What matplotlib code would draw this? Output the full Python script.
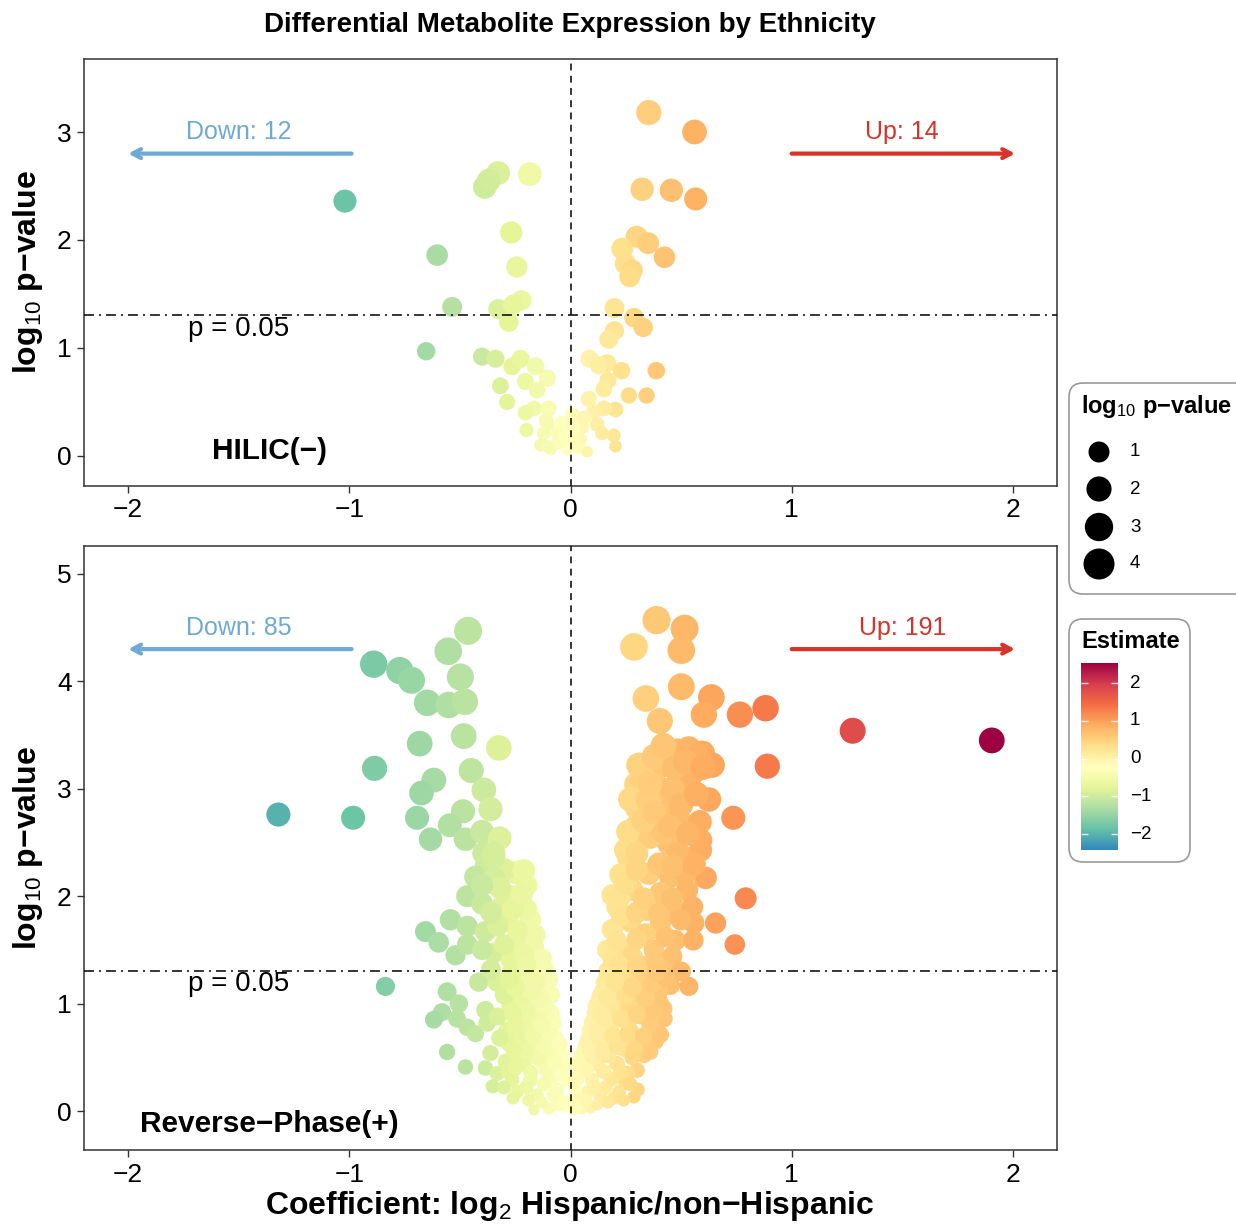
import numpy as np
import matplotlib
matplotlib.use("Agg")
import matplotlib.pyplot as plt
from matplotlib.colors import LinearSegmentedColormap, Normalize
from matplotlib.patches import FancyBboxPatch
import matplotlib.colorbar as mcolorbar

plt.rcParams['font.family'] = ['Liberation Sans', 'DejaVu Sans']
plt.rcParams['mathtext.fontset'] = 'custom'
plt.rcParams['mathtext.rm'] = 'Liberation Sans'
plt.rcParams['mathtext.it'] = 'Liberation Sans:italic'
plt.rcParams['mathtext.bf'] = 'Liberation Sans:bold'

# ---- data: (coefficient log2 ratio, log10 p-value) ----
hilic_neg = [(-1.02, 2.36), (-0.327, 2.62), (-0.388, 2.49), (-0.184, 2.61), (-0.268, 2.07),
             (-0.603, 1.86), (-0.243, 1.75), (-0.535, 1.38), (-0.222, 1.44), (-0.327, 1.36),
             (-0.37, 2.55), (-0.26, 1.40),
             (-0.279, 1.24), (-0.653, 0.97), (-0.40, 0.92), (-0.339, 0.90), (-0.264, 0.83),
             (-0.226, 0.90), (-0.158, 0.83), (-0.105, 0.72), (-0.204, 0.69), (-0.151, 0.61),
             (-0.317, 0.65), (-0.287, 0.50), (-0.166, 0.44), (-0.204, 0.40), (-0.098, 0.44),
             (-0.105, 0.30), (-0.199, 0.24), (-0.121, 0.21), (-0.06, 0.21), (-0.136, 0.10),
             (-0.09, 0.06), (-0.03, 0.15), (-0.015, 0.06), (-0.11, 0.33), (-0.06, 0.12),
             (-0.04, 0.30), (-0.105, 0.09), (-0.023, 0.18)]
hilic_pos = [(0.354, 3.18), (0.561, 3.00), (0.324, 2.47), (0.456, 2.46), (0.566, 2.38),
             (0.299, 2.03), (0.351, 1.97), (0.234, 1.92), (0.425, 1.84), (0.249, 1.78),
             (0.279, 1.72), (0.268, 1.66), (0.199, 1.37), (0.287, 1.28), (0.329, 1.19),
             (0.199, 1.16), (0.173, 1.08), (0.086, 0.90), (0.166, 0.86), (0.128, 0.84),
             (0.231, 0.79), (0.388, 0.79), (0.169, 0.70), (0.151, 0.62), (0.083, 0.53),
             (0.264, 0.56), (0.344, 0.56), (0.204, 0.43), (0.151, 0.44), (0.106, 0.41),
             (0.121, 0.29), (0.053, 0.27), (0.196, 0.19), (0.204, 0.09), (0.075, 0.04),
             (0.045, 0.15), (0.143, 0.21), (0.008, 0.38), (0.014, 0.27), (0.017, 0.18),
             (0.03, 0.08), (0.06, 0.35)]

rp_neg = [(-0.463, 4.47), (-0.553, 4.28), (-0.890, 4.16), (-0.772, 4.10), (-0.719, 4.01),
          (-0.498, 4.04), (-0.648, 3.80), (-0.551, 3.78), (-0.478, 3.81), (-0.682, 3.42),
          (-0.483, 3.49), (-0.324, 3.38), (-0.886, 3.19), (-0.618, 3.08), (-0.674, 2.96),
          (-0.449, 3.17), (-0.392, 2.99), (-0.983, 2.73), (-0.694, 2.73), (-0.486, 2.79),
          (-0.362, 2.81), (-0.546, 2.66), (-0.633, 2.53), (-0.475, 2.53), (-0.400, 2.60),
          (-0.320, 2.54), (-0.392, 2.40), (-0.347, 2.40), (-1.321, 2.76),
          (-0.20, 2.10), (-0.25, 2.22), (-0.27, 2.00), (-0.30, 2.25), (-0.38, 2.30), (-0.15, 1.30),
          (-0.347, 2.37), (-0.211, 2.24), (-0.43, 2.18), (-0.347, 2.17), (-0.467, 2.00),
          (-0.40, 1.93), (-0.302, 1.93), (-0.226, 1.95), (-0.656, 1.67), (-0.543, 1.78),
          (-0.467, 1.72), (-0.385, 1.67), (-0.287, 1.78), (-0.181, 1.78), (-0.596, 1.57),
          (-0.52, 1.45), (-0.467, 1.55), (-0.347, 1.47), (-0.241, 1.56), (-0.166, 1.53),
          (-0.271, 1.41), (-0.181, 1.38), (-0.837, 1.16), (-0.415, 1.20), (-0.332, 1.20),
          (-0.558, 1.11), (-0.234, 1.20), (-0.136, 1.16), (-0.09, 1.08), (-0.505, 1.00),
          (-0.581, 0.92), (-0.618, 0.85), (-0.513, 0.86), (-0.385, 0.94), (-0.271, 0.97),
          (-0.181, 1.00), (-0.09, 0.91), (-0.467, 0.78), (-0.43, 0.72), (-0.377, 0.82),
          (-0.287, 0.75), (-0.196, 0.78), (-0.105, 0.75), (-0.279, 0.63), (-0.181, 0.60),
          (-0.075, 0.60), (-0.558, 0.55), (-0.362, 0.54), (-0.294, 0.46), (-0.211, 0.44),
          (-0.121, 0.44), (-0.03, 0.44), (-0.475, 0.41), (-0.385, 0.40), (-0.332, 0.35),
          (-0.264, 0.29), (-0.181, 0.29), (-0.09, 0.29), (-0.015, 0.29), (-0.352, 0.23),
          (-0.241, 0.18), (-0.151, 0.15), (-0.06, 0.13), (-0.166, 0.01), (-0.09, 0.03),
          (-0.015, 0.04), (-0.05, 0.05), (-0.10, 0.02), (-0.04, 0.35),
          (-0.06, 0.20), (-0.12, 0.25), (-0.20, 0.22), (-0.28, 0.36), (-0.04, 0.52),
          (-0.10, 0.55), (-0.15, 0.50), (-0.24, 0.52), (-0.07, 0.68), (-0.14, 0.66),
          (-0.22, 0.68), (-0.32, 0.68), (-0.08, 0.82), (-0.15, 0.88), (-0.23, 0.86),
          (-0.33, 0.88), (-0.12, 0.98), (-0.22, 1.06), (-0.30, 1.08), (-0.10, 1.22),
          (-0.18, 1.25), (-0.27, 1.28), (-0.36, 1.32), (-0.13, 1.42), (-0.21, 1.46),
          (-0.30, 1.55), (-0.40, 1.50), (-0.16, 1.64), (-0.24, 1.68), (-0.33, 1.72),
          (-0.20, 1.88), (-0.26, 1.88), (-0.36, 1.85), (-0.22, 2.02), (-0.32, 2.08),
          (-0.40, 2.10),
          (-0.03, 0.08), (-0.08, 0.15), (-0.13, 0.08), (-0.19, 0.10), (-0.26, 0.12),
          (-0.30, 0.22), (-0.11, 0.38), (-0.18, 0.36), (-0.25, 0.40), (-0.07, 0.45),
          (-0.20, 0.55), (-0.12, 0.60), (-0.26, 0.58), (-0.05, 0.62), (-0.10, 0.72),
          (-0.17, 0.70), (-0.25, 0.78), (-0.13, 0.80), (-0.20, 0.92), (-0.26, 0.90),
          (-0.14, 1.05), (-0.18, 1.12), (-0.25, 1.15), (-0.12, 1.32), (-0.20, 1.36),
          (-0.28, 1.22), (-0.16, 1.20)]
rp_pos = [(0.389, 4.57), (0.516, 4.49), (0.287, 4.32), (0.501, 4.29), (0.501, 3.95),
          (0.341, 3.84), (0.637, 3.85), (0.404, 3.63), (0.603, 3.69), (0.766, 3.69),
          (0.882, 3.75), (0.483, 3.35), (0.535, 3.37), (0.596, 3.33), (0.641, 3.22),
          (0.309, 3.22), (0.415, 3.22), (0.890, 3.21), (0.299, 3.04), (0.400, 3.00),
          (0.516, 3.10), (0.535, 3.02), (0.626, 2.90), (0.302, 2.82), (0.445, 2.80),
          (0.490, 2.71), (0.585, 2.69), (0.736, 2.73), (0.299, 2.65), (0.404, 2.66),
          (0.588, 2.52), (0.294, 2.48), (0.445, 2.49), (0.249, 2.43), (0.490, 2.40),
          (1.276, 3.54), (1.905, 3.45),
          (0.27, 2.90), (0.35, 2.90), (0.33, 3.10), (0.36, 2.55), (0.42, 2.60),
          (0.26, 2.60), (0.46, 3.00), (0.38, 3.30), (0.55, 3.15), (0.50, 2.85),
          (0.588, 2.43), (0.264, 2.35), (0.498, 2.37), (0.226, 2.20), (0.354, 2.21),
          (0.452, 2.18), (0.611, 2.17), (0.520, 2.21), (0.189, 2.01), (0.279, 2.06),
          (0.407, 2.03), (0.528, 2.06), (0.792, 1.98), (0.211, 1.90), (0.347, 1.87),
          (0.468, 1.86), (0.551, 1.90), (0.558, 1.75), (0.656, 1.75), (0.271, 1.76),
          (0.407, 1.75), (0.189, 1.69), (0.339, 1.65), (0.475, 1.59), (0.555, 1.59),
          (0.743, 1.55), (0.166, 1.50), (0.256, 1.50), (0.377, 1.50), (0.460, 1.44),
          (0.219, 1.38), (0.317, 1.36), (0.158, 1.20), (0.271, 1.22), (0.362, 1.24),
          (0.452, 1.17), (0.535, 1.16), (0.136, 1.06), (0.226, 1.06), (0.317, 1.06),
          (0.400, 1.02), (0.113, 0.91), (0.211, 0.91), (0.317, 0.89), (0.422, 0.86),
          (0.090, 0.75), (0.181, 0.75), (0.271, 0.74), (0.362, 0.72), (0.407, 0.71),
          (0.068, 0.60), (0.151, 0.60), (0.241, 0.58), (0.324, 0.60), (0.385, 0.65),
          (0.030, 0.44), (0.121, 0.44), (0.211, 0.44), (0.302, 0.38), (0.332, 0.52),
          (0.015, 0.29), (0.098, 0.29), (0.181, 0.29), (0.249, 0.26), (0.305, 0.20),
          (0.287, 0.13), (0.045, 0.13), (0.136, 0.13), (0.196, 0.12), (0.015, 0.01),
          (0.090, 0.03), (0.00, 0.10), (0.05, 0.02), (0.02, 0.22), (0.04, 0.40),
          (0.03, 0.30), (0.08, 0.18), (0.16, 0.22), (0.22, 0.18), (0.26, 0.35),
          (0.05, 0.52), (0.10, 0.50), (0.17, 0.52), (0.28, 0.50), (0.36, 0.55),
          (0.08, 0.66), (0.13, 0.68), (0.22, 0.66), (0.30, 0.68), (0.10, 0.82),
          (0.16, 0.84), (0.26, 0.82), (0.36, 0.80), (0.42, 0.95), (0.12, 0.98),
          (0.18, 0.98), (0.27, 0.98), (0.35, 0.96), (0.15, 1.12), (0.21, 1.14),
          (0.31, 1.15), (0.40, 1.12), (0.17, 1.30), (0.24, 1.30), (0.33, 1.28),
          (0.42, 1.32), (0.50, 1.30), (0.19, 1.42), (0.28, 1.44), (0.38, 1.40),
          (0.21, 1.58), (0.30, 1.60), (0.43, 1.62), (0.23, 1.82), (0.30, 1.85),
          (0.40, 1.84), (0.50, 1.78), (0.22, 1.98), (0.33, 1.98), (0.46, 1.98),
          (0.25, 2.12), (0.30, 2.25), (0.40, 2.30), (0.46, 2.28), (0.56, 2.30),
          (0.30, 2.40), (0.33, 2.70), (0.38, 2.78), (0.45, 2.65), (0.53, 2.58),
          (0.36, 3.05), (0.47, 3.20), (0.42, 3.40), (0.58, 3.30), (0.52, 3.25),
          (0.57, 2.95), (0.60, 3.20),
          (0.03, 0.05), (0.07, 0.10), (0.12, 0.06), (0.17, 0.08), (0.24, 0.10),
          (0.11, 0.22), (0.19, 0.30), (0.27, 0.25), (0.07, 0.38), (0.15, 0.37),
          (0.23, 0.36), (0.09, 0.56), (0.14, 0.55), (0.21, 0.60), (0.29, 0.58),
          (0.12, 0.74), (0.19, 0.70), (0.26, 0.72), (0.33, 0.70), (0.14, 0.90),
          (0.23, 0.86), (0.30, 0.90), (0.38, 0.92), (0.17, 1.05), (0.25, 1.08),
          (0.34, 1.05), (0.20, 1.20), (0.28, 1.15), (0.37, 1.18), (0.43, 1.25),
          (0.22, 1.36), (0.30, 1.35), (0.39, 1.30)]

hilic_counts = (12, 14)   # (down, up)
rp_counts = (85, 191)

# colour scale (Estimate) – Spectral, blue -> dark red
spectral = ['#3288BD', '#66C2A5', '#ABDDA4', '#E6F598', '#FFFFBF',
            '#FEE08B', '#FDAE61', '#F46D43', '#D53E4F', '#9E0142']
cmap = LinearSegmentedColormap.from_list('spec', spectral)
est_lim = (-2.42, 2.53)


def dot_colour(coef):
    pos = np.interp(coef, [-2, -1, -0.45, 0, 0.3, 0.9, 1.3, 1.92],
                    [0.0, 0.12, 0.26, 0.45, 0.58, 0.76, 0.86, 1.0])
    return cmap(pos)


def dot_diam_px(logp):
    return 10 + 8.5 * np.sqrt(np.clip(logp, 0, None))


W, H = 1236, 1224
fig = plt.figure(figsize=(W / 100, H / 100), dpi=100)


def px_rect(x0, y0, x1, y1):
    return [x0 / W, 1 - y1 / H, (x1 - x0) / W, (y1 - y0) / H]


ax_top = fig.add_axes(px_rect(84, 59, 1057, 486))
ax_bot = fig.add_axes(px_rect(84, 546, 1057, 1150))

blue = '#6FAAD6'
red = '#D9322A'


def draw_panel(ax, pts_neg, pts_pos, ylim, yticks, label, label_y, counts, arrow_y, text_y):
    pts = np.array(pts_neg + pts_pos)
    coef, logp = pts[:, 0], pts[:, 1]
    ax.scatter(coef, logp, s=(dot_diam_px(logp) * 0.72) ** 2, c=dot_colour(coef),
               linewidths=0, zorder=2)
    ax.axvline(0, color='black', lw=1.1, ls=(0, (4.5, 3.5)), zorder=3)
    ax.axhline(-np.log10(0.05), color='black', lw=1.1, ls=(0, (6.5, 3.3, 1.3, 3.3)), zorder=3)
    ax.text(-1.5, 1.18, 'p = 0.05', ha='center', va='center', fontsize=20, zorder=4)
    ax.annotate('', xy=(-2.0, arrow_y), xytext=(-0.99, arrow_y),
                arrowprops=dict(arrowstyle='->,head_length=0.6,head_width=0.32',
                                color=blue, lw=3, shrinkA=0, shrinkB=0))
    ax.annotate('', xy=(2.01, arrow_y), xytext=(1.0, arrow_y),
                arrowprops=dict(arrowstyle='->,head_length=0.6,head_width=0.32',
                                color=red, lw=3, shrinkA=0, shrinkB=0))
    ax.text(-1.5, text_y, f'Down: {counts[0]}', color=blue, ha='center', va='center', fontsize=18)
    ax.text(1.5, text_y, f'Up: {counts[1]}', color=red, ha='center', va='center', fontsize=18)
    ax.text(-1.36, label_y, label, ha='center', va='center', fontsize=21.5, fontweight='bold')
    ax.set_xlim(-2.2, 2.2)
    ax.set_ylim(*ylim)
    ax.set_xticks([-2, -1, 0, 1, 2])
    ax.set_yticks(yticks)
    ax.tick_params(direction='out', length=5, width=1, color='#333333',
                   labelsize=19, pad=4, labelcolor='black')
    for sp in ax.spines.values():
        sp.set_color('#333333')
        sp.set_linewidth(1.1)


draw_panel(ax_top, hilic_neg, hilic_pos, (-0.278, 3.676), [0, 1, 2, 3],
           'HILIC(\u2212)', 0.05, hilic_counts, 2.80, 3.0)
draw_panel(ax_bot, rp_neg, rp_pos, (-0.363, 5.26), [0, 1, 2, 3, 4, 5],
           'Reverse\u2212Phase(+)', -0.12, rp_counts, 4.30, 4.50)

ylab = 'log$_{10}$ p\u2212value'
fig.text(28 / W, 1 - 272 / H, ylab, rotation=90, ha='center', va='center',
         fontsize=23, fontweight='bold')
fig.text(28 / W, 1 - 848 / H, ylab, rotation=90, ha='center', va='center',
         fontsize=23, fontweight='bold')
fig.text(570 / W, 1 - 1206 / H, 'Coefficient: log$_{2}$ Hispanic/non\u2212Hispanic',
         ha='center', va='center', fontsize=23, fontweight='bold')
fig.text(570 / W, 1 - 25 / H, 'Differential Metabolite Expression by Ethnicity',
         ha='center', va='center', fontsize=20, fontweight='bold')

# ---- legends, drawn in an overlay using pixel coordinates ----
ov = fig.add_axes([0, 0, 1, 1])
ov.set_xlim(0, W)
ov.set_ylim(H, 0)
ov.axis('off')
ov.patch.set_visible(False)

ov.add_patch(FancyBboxPatch((1069, 383), 190, 211, boxstyle='round,pad=0,rounding_size=14',
                            fc='white', ec='#9A9A9A', lw=1.2, clip_on=False))
ov.text(1081, 407, 'log$_{10}$ p\u2212value', ha='left', va='center', fontsize=17,
        fontweight='bold')
size_levels = [1, 2, 3, 4]
size_y = [452, 489, 527, 564]
leg_d = 11 + 10 * np.sqrt(np.array(size_levels, dtype=float))
ov.scatter([1099] * 4, size_y, s=(leg_d * 0.72) ** 2, c='black', linewidths=0)
for lv, yy in zip(size_levels, size_y):
    ov.text(1130, yy, str(lv), ha='left', va='center', fontsize=13.5)

ov.add_patch(FancyBboxPatch((1069, 619), 121, 243, boxstyle='round,pad=0,rounding_size=14',
                            fc='white', ec='#9A9A9A', lw=1.2, clip_on=False))
ov.text(1081, 641, 'Estimate', ha='left', va='center', fontsize=17, fontweight='bold')

cax = fig.add_axes(px_rect(1081, 663, 1118, 850))
cb = mcolorbar.ColorbarBase(cax, cmap=cmap, norm=Normalize(*est_lim), orientation='vertical')
cb.outline.set_visible(False)
cax.set_yticks([])
cb_ticks = [-2, -1, 0, 1, 2]
cax.hlines(cb_ticks, 0, 0.2, color='white', lw=1, alpha=0.8)
cax.hlines(cb_ticks, 0.8, 1.0, color='white', lw=1, alpha=0.8)
for t in cb_ticks:
    ypx = 850 - (t - est_lim[0]) / (est_lim[1] - est_lim[0]) * 187
    ov.text(1130, ypx, str(t).replace('-', '\u2212'), ha='left', va='center', fontsize=13.5)

fig.savefig('out.png', dpi=100)
